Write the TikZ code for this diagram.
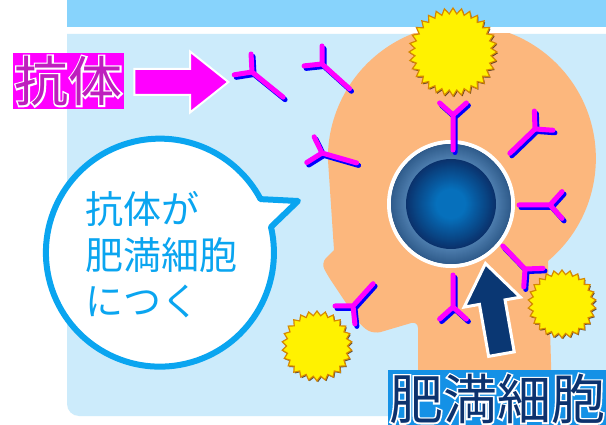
\documentclass[tikz,border=0pt]{standalone}
\usepackage{fontspec}
\usepackage{xcolor}
\usepackage{tikz}
\usetikzlibrary{shapes,arrows,positioning,calc,arrows.meta,shapes.misc,shapes.geometric,shadows}
\newfontfamily\jpFont{Noto Sans CJK JP}
\newfontfamily\jpHalo[FakeBold=6]{Noto Sans CJK JP}

\definecolor{bandBlue}{RGB}{135,211,252}
\definecolor{panelBlue}{RGB}{204,235,251}
\definecolor{skinPeach}{RGB}{252,183,125}
\definecolor{bubbleBlue}{RGB}{10,165,240}
\definecolor{abMagenta}{RGB}{255,0,255}
\definecolor{abBlue}{RGB}{0,0,255}
\definecolor{pollenYellow}{RGB}{255,242,0}
\definecolor{pollenEdge}{RGB}{214,136,0}
\definecolor{arrowNavy}{RGB}{10,55,115}
\definecolor{tagPurple}{RGB}{190,30,190}
\definecolor{tagBlue}{RGB}{20,145,230}
\definecolor{tagNavy}{RGB}{12,50,110}
\definecolor{ringOut}{RGB}{48,92,140}
\definecolor{ringIn}{RGB}{76,124,172}
\definecolor{coreDark}{RGB}{10,50,108}
\definecolor{coreMid}{RGB}{6,112,188}

% white halo behind the tag lettering
\newcommand{\haloText}[1]{\rlap{\jpHalo\color{white}#1}#1}

\tikzset{
  cellBody/.style={
    circle,
    draw=white,
    line width=4pt,
    fill=ringOut,
    minimum size=124pt,
    inner sep=0pt
  },
  pollen/.style={
    star,
    star points=30,
    star point ratio=1.15,
    fill=pollenYellow,
    draw=pollenEdge,
    line width=1.2pt,
    inner sep=0pt,
    drop shadow={shadow xshift=1pt, shadow yshift=-1.2pt, fill=black!70!brown, opacity=0.8}
  },
  pushArrow/.style={
    single arrow,
    draw=white,
    inner xsep=0pt,
    minimum width=0pt,
    anchor=tip
  },
  tagBox/.style={
    rectangle,
    inner sep=0pt,
    font=\jpFont\fontsize{54pt}{60pt}\selectfont
  },
  bubbleText/.style={
    anchor=west,
    align=left,
    inner sep=0pt,
    text=bubbleBlue,
    font=\jpFont\fontsize{38pt}{46pt}\selectfont
  },
  antibody/.pic={
    \draw[line width=5pt, line cap=round, line join=round]
      (#1,0) -- (0,0) -- (132:18) (0,0) -- (228:18);
  }
}

\begin{document}
\begin{tikzpicture}[x=1pt, y=-1pt]
  \useasboundingbox (0,0) rectangle (606,425);
  \fill[white] (0,0) rectangle (606,425);

  \fill[bandBlue] (67,0) rectangle (606,27);
  \fill[panelBlue] (67,34) -- (67,300) [rounded corners=12pt] -- (67,416) -- (400,416)
    [sharp corners] -- (606,416) -- (606,34) -- cycle;

  \begin{scope}
    \clip (67,34) rectangle (606,416);
    \fill[skinPeach] (548,261) arc[start angle=50, end angle=-180, radius=134]
      -- (334,250) [rounded corners=7pt] -- (321,263) -- (328,276) -- (362,327)
      -- (374,334) -- (418,321) [sharp corners] -- (418,430) -- (553,430) -- cycle;
  \end{scope}

  \node[cellBody] (mastCell) at (451,204) {};
  \foreach \r [evaluate=\r as \p using {(60-\r)*100/14}] in {60,59,...,46}
    \fill[ringIn!\p!ringOut] (mastCell.center) circle[radius=\r];
  \foreach \r [evaluate=\r as \p using {min(100,(45-\r)*100/30)}] in {45,44,...,1}
    \fill[coreMid!\p!coreDark] (mastCell.center) circle[radius=\r];

  \node[pollen, minimum size=88pt, star points=32] (pollenTop) at (453,52) {};
  \node[pollen, minimum size=70pt, star points=26] (pollenLeft) at (317,346) {};
  \node[pollen, minimum size=68pt, star points=26] (pollenRight) at (562,304) {};

  \foreach \x/\y/\a/\l in {252/72/39/40, 322/64/42/37, 322/153/16/36,
                           453/115/90/35, 535/129/136/35, 550/205/180/31,
                           525/269/226/32, 453/307/270/32, 353/306/312/30} {
    \pic[color=abBlue, rotate=-\a] at (\x+2,\y+2.5) {antibody=\l};
    \pic[color=abMagenta, rotate=-\a] at (\x,\y) {antibody=\l};
  }

  \node[pushArrow, fill=abMagenta, line width=2pt, minimum height=94pt,
        single arrow head extend=17.5pt, single arrow tip angle=77,
        inner ysep=12pt] (antibodyArrow) at (230,82) {};
  \node[pushArrow, fill=arrowNavy, line width=3pt, minimum height=92pt,
        single arrow head extend=15.5pt, single arrow tip angle=72,
        inner ysep=11.5pt, rotate=100] (cellArrow) at (485,261) {};

  \draw[bubbleBlue, line width=6pt, fill=white, line join=round]
    (271,227) arc[start angle=-13, end angle=332, radius=114] -- (298,201) -- cycle;
  \node[bubbleText] (bubbleNote) at (85,255) {抗体が\\肥満細胞\\につく};

  \node[tagBox, fill=abMagenta, text=tagPurple, minimum width=111pt, minimum height=56pt]
    (antibodyTag) at (68.5,81) {\haloText{抗体}};
  \node[tagBox, fill=tagBlue, text=tagNavy, minimum width=218pt, minimum height=58pt]
    (mastTag) at (497,399) {\haloText{肥満細胞}};
\end{tikzpicture}
\end{document}
